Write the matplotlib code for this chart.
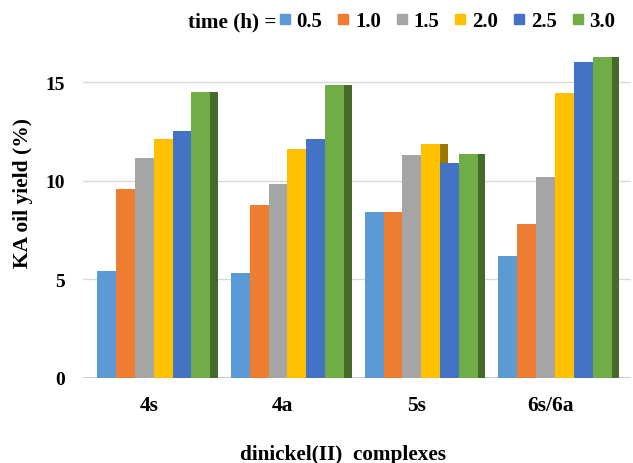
import matplotlib
matplotlib.use('Agg')
import matplotlib.pyplot as plt
import matplotlib.colors as mcolors
from matplotlib.lines import Line2D
import numpy as np

categories = ['4s', '4a', '5s', '6s/6a']
times = ['0.5', '1.0', '1.5', '2.0', '2.5', '3.0']
y_05 = [5.42, 5.32, 8.43, 6.2]
y_10 = [9.58, 8.75, 8.43, 7.8]
y_15 = [11.15, 9.81, 11.3, 10.2]
y_20 = [12.12, 11.63, 11.87, 14.45]
y_25 = [12.54, 12.1, 10.92, 16.0]
y_30 = [14.52, 14.87, 11.37, 16.25]
series = [y_05, y_10, y_15, y_20, y_25, y_30]
colors = ['#5B9BD5', '#ED7D31', '#A5A5A5', '#FFC000', '#4472C4', '#70AD47']

FONT = 'Liberation Serif'

fig = plt.figure(figsize=(6.33, 4.64), dpi=100)
ax = fig.add_axes([0.1311, 0.1832, 0.8657, 0.7144])

x = np.arange(len(categories))
w = 0.141
d = 0.056
n = len(series)
for j, (vals, c) in enumerate(zip(series, colors)):
    pos = x + (j - (n - 1) / 2) * w
    rgb = np.array(mcolors.to_rgb(c)) * 0.62
    ax.bar(pos + w / 2, vals, width=d, align='edge', color=rgb, zorder=1, linewidth=0)
    ax.bar(pos, vals, width=w, color=c, zorder=2, linewidth=0)

ax.set_xlim(-0.528, 3.567)
ax.set_ylim(0, 16.8)
ax.set_yticks([0, 5, 10, 15])
ax.set_xticks(x - 0.035)
ax.set_xticklabels(categories, fontfamily=FONT, fontweight='bold', fontsize=15.5)
for lab in ax.get_yticklabels():
    lab.set_fontfamily(FONT)
    lab.set_fontweight('bold')
    lab.set_fontsize(14)
ax.tick_params(axis='y', length=0, pad=13)
ax.tick_params(axis='x', length=0, pad=12)
for s in ax.spines.values():
    s.set_visible(False)
ax.yaxis.grid(True, color='#D9D9D9', linewidth=1.0, zorder=0)
ax.set_axisbelow(True)
ax.axhline(0, color='#BFBFBF', linewidth=1.2, zorder=0.5)

fig.text(23 / 633, 1 - 193.5 / 464, 'KA oil yield (%)', rotation=90, ha='center', va='center',
         fontfamily=FONT, fontweight='bold', fontsize=15.5)
fig.text(343 / 633, 1 - 455 / 464, 'dinickel(II)  complexes', ha='center', va='center',
         fontfamily=FONT, fontweight='bold', fontsize=15.3)

fig.text(276 / 633, 1 - 22 / 464, 'time (h) =', ha='right', va='center',
         fontfamily=FONT, fontweight='bold', fontsize=15.3)
handles = [Line2D([], [], marker='s', linestyle='none', markersize=7.2, color=c) for c in colors]
fig.legend(handles, times, loc='center left', bbox_to_anchor=(279 / 633, 1 - 22 / 464),
           ncol=6, frameon=False, borderpad=0, borderaxespad=0, handlelength=0.55,
           handletextpad=0.3, columnspacing=0.72,
           prop={'family': FONT, 'weight': 'bold', 'size': 15})

fig.savefig('out.png', dpi=100)
